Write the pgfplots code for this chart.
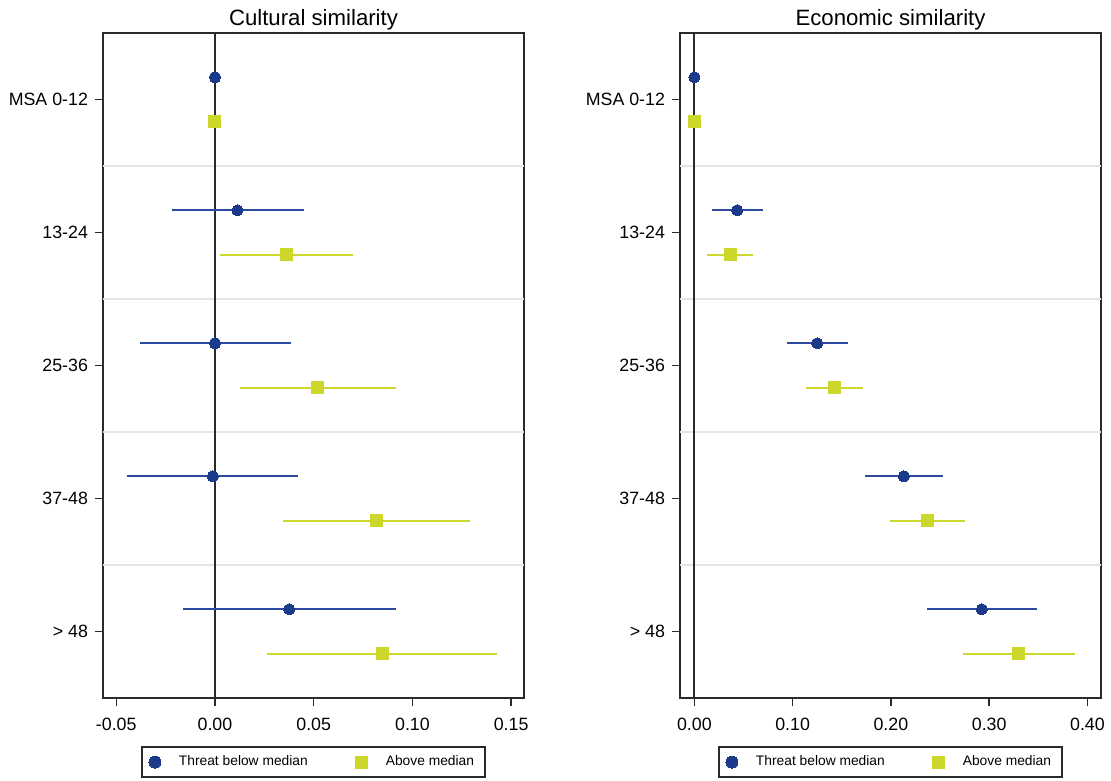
\documentclass[border=0pt]{standalone}
\usepackage{pgfplots}
\pgfplotsset{compat=1.18}
\usepackage{fontspec}
\setmainfont{Liberation Sans}
\definecolor{cnavy}{HTML}{1C3A8C}
\definecolor{cnavyl}{HTML}{2D4B9E}
\definecolor{cylw}{HTML}{CDD62B}
\definecolor{cframe}{HTML}{2A2A2A}

\pgfplotstableread{
y x em ep
-0.167 0.0000 0.0000 0.0000
0.833 0.0114 0.0333 0.0335
1.833 0.0000 0.0380 0.0387
2.833 -0.0011 0.0434 0.0434
3.833 0.0376 0.0539 0.0539
}\culblue
\pgfplotstableread{
y x em ep
0.167 0.0000 0.0000 0.0000
1.167 0.0360 0.0337 0.0338
2.167 0.0521 0.0395 0.0396
3.167 0.0818 0.0473 0.0474
4.167 0.0847 0.0581 0.0582
}\culyel
\pgfplotstableread{
y x em ep
-0.167 0.0000 0.0000 0.0000
0.833 0.0436 0.0261 0.0264
1.833 0.1250 0.0307 0.0310
2.833 0.2132 0.0400 0.0400
3.833 0.2925 0.0561 0.0561
}\ecoblue
\pgfplotstableread{
y x em ep
0.167 0.0000 0.0000 0.0000
1.167 0.0368 0.0236 0.0228
2.167 0.1425 0.0293 0.0293
3.167 0.2368 0.0382 0.0389
4.167 0.3300 0.0568 0.0571
}\ecoyel

\pgfplotsset{
  every axis title/.style={at={(0.5,1)}, anchor=base, yshift=4pt,
    font=\fontsize{11.1}{13}\selectfont},
  forest/.style={
    scale only axis, height=332.5pt, width=210.5pt,
    ymin=-0.5, ymax=4.5, y dir=reverse,
    ytick={0,1,2,3,4},
    yticklabels={MSA 0-12,13-24,25-36,37-48,> 48},
    tick align=outside, xtick pos=bottom, ytick pos=left,
    major tick length=4pt,
    tick style={cframe, line width=0.7pt},
    axis line style={cframe, line width=1pt},
    ticklabel style={font=\fontsize{8.9}{10.5}\selectfont},
    xticklabel style={yshift=-2.5pt},
    extra y ticks={0.5,1.5,2.5,3.5},
    extra y tick labels={},
    extra y tick style={major tick length=0pt, grid=major,
      major grid style={color=gray!20, line width=0.8pt}},
    legend columns=2,
    legend cell align=left,
    legend image code/.code={\draw[##1, mark size=3pt] plot coordinates {(0pt,0pt)};},
    legend style={at={(0.5,-0.0722)}, anchor=north, draw=cframe,
      line width=0.9pt, font=\fontsize{6.9}{8}\selectfont,
      /tikz/every odd column/.append style={column sep=7pt},
      /tikz/every even column/.append style={column sep=22pt},
      inner xsep=3.5pt, inner ysep=2.3pt},
  },
  bluepts/.style={only marks, mark=*, mark size=2.8pt,
    mark options={fill=cnavy, draw=cnavy, line width=0pt},
    error bars/.cd, x dir=both, x explicit, error mark=none,
    error bar style={line width=1pt, cnavyl}},
  yelpts/.style={only marks, mark=square*, mark size=3pt,
    mark options={fill=cylw, draw=cylw, line width=0pt},
    error bars/.cd, x dir=both, x explicit, error mark=none,
    error bar style={line width=1pt, cylw}},
}

\begin{document}
\begin{tikzpicture}
\useasboundingbox (-51.5pt,-41pt) rectangle (504pt,349pt);
\begin{axis}[forest, name=left, at={(0pt,0pt)}, anchor=south west,
  xmin=-0.0567, xmax=0.1565,
  xtick={-0.05,0,0.05,0.1,0.15},
  xticklabels={-0.05,0.00,0.05,0.10,0.15},
  title={Cultural similarity}]
\draw[cframe, line width=1pt] (axis cs:0,-0.5) -- (axis cs:0,4.5);
\addplot[bluepts] table[x=x, y=y, x error minus=em, x error plus=ep] {\culblue};
\addlegendentry{Threat below median}
\addplot[yelpts] table[x=x, y=y, x error minus=em, x error plus=ep] {\culyel};
\addlegendentry{Above median}
\end{axis}
\begin{axis}[forest, name=right, at={(288.5pt,0pt)}, anchor=south west,
  xmin=-0.0146, xmax=0.4138,
  xtick={0,0.1,0.2,0.3,0.4},
  xticklabels={0.00,0.10,0.20,0.30,0.40},
  title={Economic similarity}]
\draw[cframe, line width=1pt] (axis cs:0,-0.5) -- (axis cs:0,4.5);
\addplot[bluepts] table[x=x, y=y, x error minus=em, x error plus=ep] {\ecoblue};
\addlegendentry{Threat below median}
\addplot[yelpts] table[x=x, y=y, x error minus=em, x error plus=ep] {\ecoyel};
\addlegendentry{Above median}
\end{axis}
\end{tikzpicture}
\end{document}
